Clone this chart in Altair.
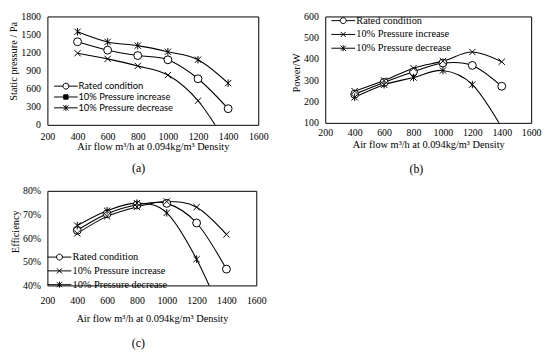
import altair as alt
import pandas as pd

FLOW = [400, 600, 800, 1000, 1200, 1400]
SERIES = ["Rated condition", "10% Pressure increase", "10% Pressure decrease"]
X_TICKS = [200, 400, 600, 800, 1000, 1200, 1400, 1600]
X_TITLE = "Air flow  m³/h at 0.094kg/m³ Density"

# (a) static pressure / Pa
A_RATED = [1380, 1240, 1150, 1080, 765, 268]
A_INCREASE = [1190, 1095, 978, 826, 400, -350]
A_DECREASE = [1545, 1376, 1315, 1214, 1082, 692]
A_TICKS = [0, 300, 600, 900, 1200, 1500, 1800]

# (b) power / W
B_RATED = [235, 290, 340, 381, 370, 272]
B_INCREASE = [249, 299, 357, 390, 433, 387]
B_DECREASE = [220, 279, 313, 346, 280, 78]
B_TICKS = [100, 200, 300, 400, 500, 600]

# (c) efficiency
C_RATED = [0.633, 0.703, 0.740, 0.747, 0.664, 0.469]
C_INCREASE = [0.620, 0.692, 0.732, 0.755, 0.731, 0.616]
C_DECREASE = [0.653, 0.716, 0.748, 0.707, 0.511, 0.23]
C_TICKS = [0.4, 0.5, 0.6, 0.7, 0.8]

SERIF = "Liberation Serif"

# marker shapes (unit square -1..1)
P_CIRCLE = "circle"
P_X = "M-0.8,-0.8L0.8,0.8M-0.8,0.8L0.8,-0.8"
P_STAR = "M-0.8,-0.8L0.8,0.8M-0.8,0.8L0.8,-0.8M0,-0.95V0.95"

# legend symbols: line with marker
L_CIRCLE = "M-3,0H-0.75M0.75,0H3M-0.75,0A0.75,0.75,0,1,1,0.75,0A0.75,0.75,0,1,1,-0.75,0"
L_SQUARE = "M-3,0H3M-0.55,-0.55H0.55V0.55H-0.55Z"
L_X = "M-3,0H3M-0.65,-0.65L0.65,0.65M-0.65,0.65L0.65,-0.65"
L_STAR = "M-3,0H3M-0.65,-0.65L0.65,0.65M-0.65,0.65L0.65,-0.65M0,-0.75V0.75"


def panel(values, ydom, yticks, yfmt, ytitle, ytitle_y, width, height,
          plot_shapes, leg_shapes, leg_fills, leg, xlab_pad, xtitle_pad,
          caption, cap_offset):
    rows = []
    for name, vals in zip(SERIES, values):
        for f, v in zip(FLOW, vals):
            rows.append({"flow": f, "value": v, "series": name})
    df = pd.DataFrame(rows)
    base = alt.Chart(df)
    xenc = alt.X("flow:Q", scale=alt.Scale(domain=[200, 1600], nice=False, zero=False),
                 axis=alt.Axis(values=X_TICKS, format="d", title=X_TITLE,
                               labelPadding=xlab_pad, titlePadding=xtitle_pad,
                               labelFlush=False))
    yenc = alt.Y("value:Q", scale=alt.Scale(domain=ydom, nice=False, zero=False),
                 axis=alt.Axis(values=yticks, format=yfmt, title=ytitle, labelPadding=7,
                               titlePadding=2, titleY=ytitle_y))
    line = base.mark_line(interpolate="cardinal", clip=True, color="black",
                          strokeWidth=1.1).encode(xenc, yenc, detail="series:N")
    pts = base.mark_point(clip=True, size=64, fill="white", stroke="black",
                          strokeWidth=1, opacity=1).encode(
        xenc, yenc,
        shape=alt.Shape("series:N", scale=alt.Scale(domain=SERIES, range=plot_shapes),
                        legend=None))
    lg = base.transform_filter("false").mark_point(size=64, strokeWidth=1,
                                                   opacity=1).encode(
        xenc, yenc,
        shape=alt.Shape("series:N", scale=alt.Scale(domain=SERIES, range=leg_shapes),
                        legend=alt.Legend(**leg)),
        fill=alt.Fill("series:N", scale=alt.Scale(domain=SERIES, range=leg_fills),
                      legend=alt.Legend(**leg)),
        stroke=alt.Stroke("series:N",
                          scale=alt.Scale(domain=SERIES, range=["black"] * 3),
                          legend=alt.Legend(**leg)))
    return alt.layer(line, pts, lg).resolve_scale(
        shape="independent", fill="independent", stroke="independent").properties(
        width=width, height=height,
        title=alt.TitleParams(caption, orient="bottom", anchor="middle", frame="bounds",
                              font=SERIF, fontSize=12, fontWeight="normal",
                              color="black", offset=cap_offset))


def leg_params(x, y, font, size, row_pad, label_offset):
    return dict(orient="none", legendX=x, legendY=y, title=None, labelFont=font,
                labelFontSize=size, labelColor="black", rowPadding=row_pad,
                labelOffset=label_offset, symbolSize=64, symbolStrokeColor="black",
                symbolStrokeWidth=1, symbolOpacity=1, padding=0)


pa = panel([A_RATED, A_INCREASE, A_DECREASE], [0, 1800], A_TICKS, "d",
           "Static pressure / Pa", 45, 214, 110,
           [P_CIRCLE, P_X, P_STAR], [L_CIRCLE, L_SQUARE, L_STAR],
           ["white", "black", "white"],
           leg_params(14, 66, "Lato", 9.5, 0, 8), 7, 0, "(a)", 11)

pb = panel([B_RATED, B_INCREASE, B_DECREASE], [100, 600], B_TICKS, "d",
           "Power/W", 57, 209, 108,
           [P_CIRCLE, P_X, P_STAR], [L_CIRCLE, L_X, L_STAR],
           ["white", "white", "white"],
           leg_params(13, -1, SERIF, 10.5, 3, 8), 5, 2, "(b)", 14)

pc = panel([C_RATED, C_INCREASE, C_DECREASE], [0.4, 0.8], C_TICKS, ".0%",
           "Efficiency", 41, 212, 96,
           [P_CIRCLE, P_X, P_STAR], [L_CIRCLE, L_X, L_STAR],
           ["white", "white", "white"],
           leg_params(7, 62, SERIF, 10.5, 3, 8), 10, 9, "(c)", 14)

chart = alt.concat(pa, pb, pc, columns=2, spacing={"row": 67, "column": 68},
                   bounds="flush").properties(padding=0).configure_view(
    stroke="black", strokeWidth=1).configure_axis(
    labelFont=SERIF, labelFontSize=10, labelColor="black",
    titleFont=SERIF, titleFontSize=10.5, titleFontWeight="normal", titleColor="black",
    domain=False, ticks=False, grid=False)

chart.save("out.html", embed_options={"renderer": "svg", "actions": False})
